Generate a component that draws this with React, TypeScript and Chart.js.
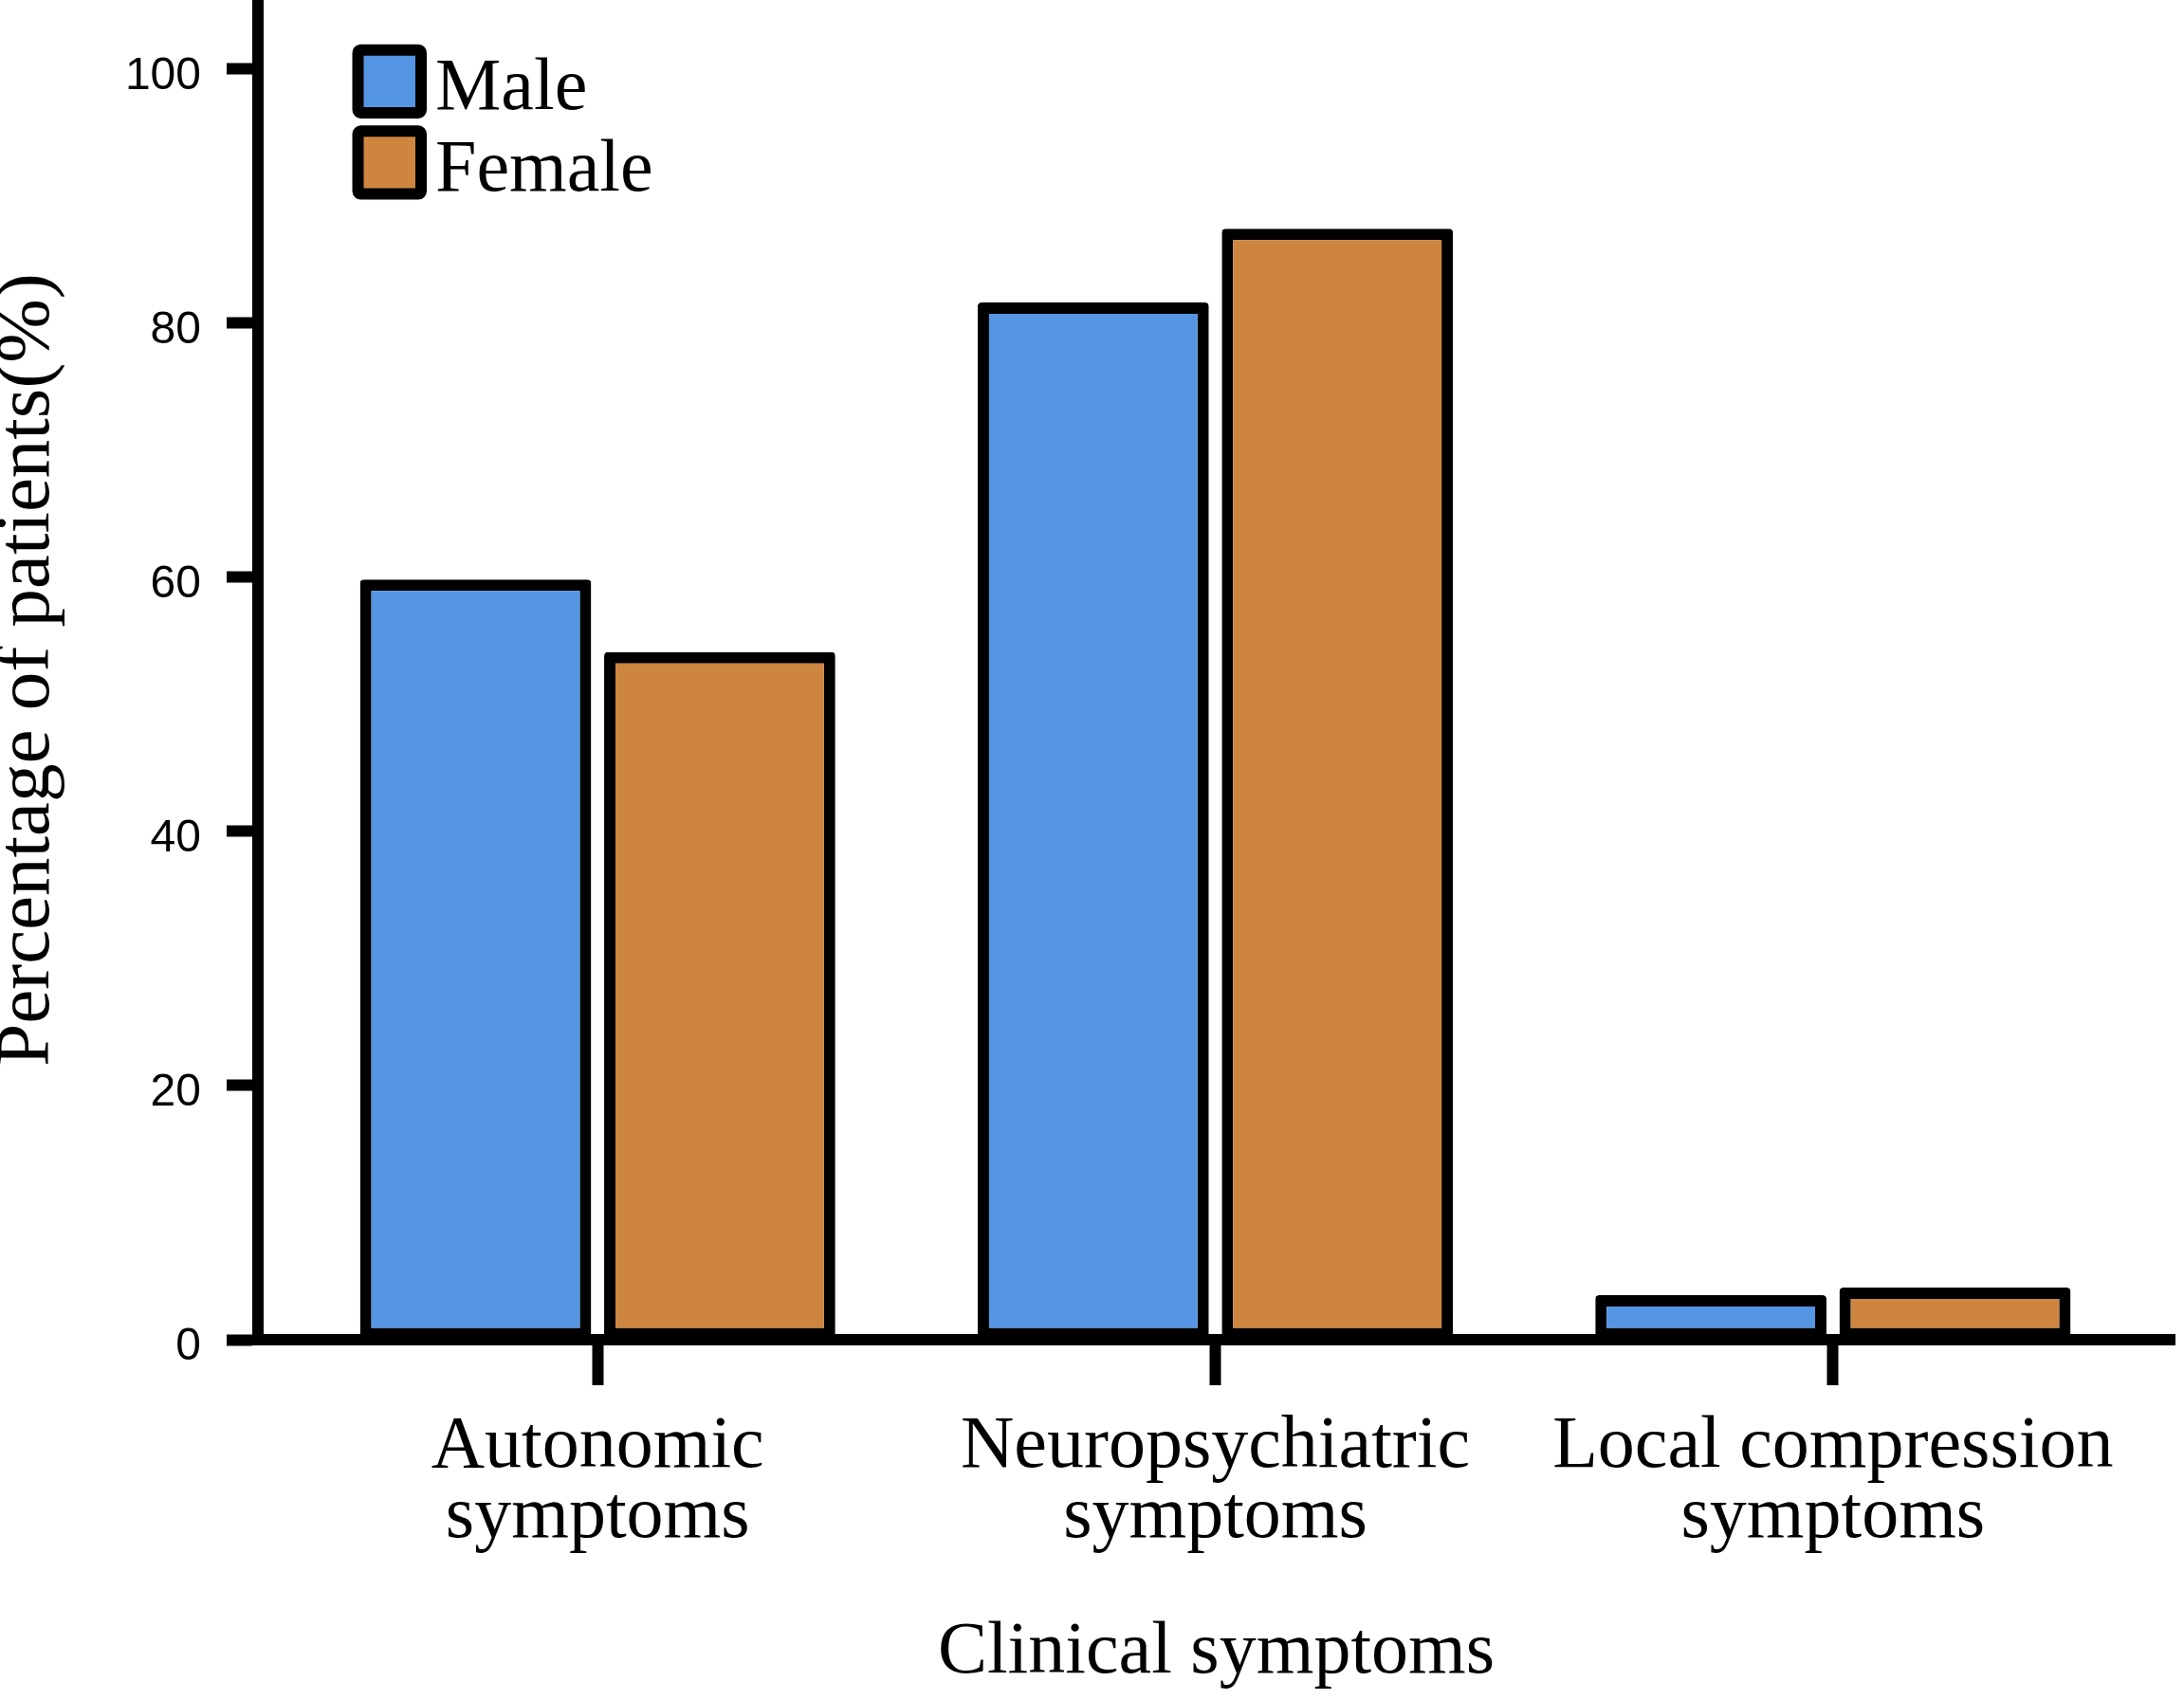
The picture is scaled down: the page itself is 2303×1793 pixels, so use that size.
import { useEffect, useRef } from 'react';
import { Chart, registerables } from 'chart.js';

Chart.register(...registerables);

const categories: string[][] = [
  ['Autonomic', 'symptoms'],
  ['Neuropsychiatric', 'symptoms'],
  ['Local compression', 'symptoms'],
];
const seriesNames = ['Male', 'Female'];
const maleValues = [59.8, 81.6, 3.5];
const femaleValues = [54.1, 87.4, 4.1];
const yTicks = [0, 20, 40, 60, 80, 100];
const seriesColors = ['#5495E4', '#CD853F'];

const xTitle = 'Clinical symptoms';
const yTitle = 'Percentage of patients(%)';

const SERIF = '"Liberation Serif", "Times New Roman", serif';
const SANS = '"Liberation Sans", Arial, sans-serif';

const W = 2303;
const H = 1793;

function roundRectPath(ctx: CanvasRenderingContext2D, x: number, y: number, w: number, h: number, r: number) {
  ctx.beginPath();
  ctx.moveTo(x + r, y);
  ctx.lineTo(x + w - r, y);
  ctx.arcTo(x + w, y, x + w, y + r, r);
  ctx.lineTo(x + w, y + h - r);
  ctx.arcTo(x + w, y + h, x + w - r, y + h, r);
  ctx.lineTo(x + r, y + h);
  ctx.arcTo(x, y + h, x, y + h - r, r);
  ctx.lineTo(x, y + r);
  ctx.arcTo(x, y, x + r, y, r);
  ctx.closePath();
}

const legendPlugin = {
  id: 'insideLegend',
  afterDraw(chart: any) {
    const ctx: CanvasRenderingContext2D = chart.ctx;
    const { left, top } = chart.chartArea;
    const boxX = left + 99.5;
    const boxW = 78.5;
    const boxH = 78.3;
    const step = 85.6;
    const lw = 12;
    ctx.save();
    chart.data.datasets.forEach((ds: any, i: number) => {
      const by = top + 46.7 + i * step;
      roundRectPath(ctx, boxX + lw / 2, by + lw / 2, boxW - lw, boxH - lw, 3);
      ctx.fillStyle = ds.backgroundColor;
      ctx.fill();
      ctx.lineWidth = lw;
      ctx.lineJoin = 'round';
      ctx.strokeStyle = '#000';
      ctx.stroke();
      ctx.fillStyle = '#000';
      ctx.font = `78px ${SERIF}`;
      ctx.textAlign = 'left';
      ctx.textBaseline = 'alphabetic';
      ctx.fillText(ds.label, left + 187, by + 68.3);
    });
    ctx.restore();
  },
};

export default function App() {
  const ref = useRef<HTMLCanvasElement>(null);

  useEffect(() => {
    if (!ref.current) return;
    const values = [maleValues, femaleValues];
    const chart = new Chart(ref.current, {
      type: 'bar',
      data: {
        datasets: seriesNames.map((name, s) => ({
          label: name,
          data: values[s].map((v, i) => ({ x: i, y: v })),
          backgroundColor: seriesColors[s],
          borderColor: '#000',
          borderWidth: 12,
          borderSkipped: false,
          borderRadius: 4,
          categoryPercentage: 0.7904,
          barPercentage: 0.947,
        })),
      },
      options: {
        animation: false,
        responsive: false,
        devicePixelRatio: 1,
        layout: { padding: { left: 0, right: 10, top: 0, bottom: 0 } },
        plugins: { legend: { display: false }, tooltip: { enabled: false } },
        scales: {
          x: {
            type: 'linear',
            min: -0.55,
            max: 2.553,
            offset: false,
            afterBuildTicks: (s: any) => {
              s.ticks = categories.map((_, i) => ({ value: i }));
            },
            afterFit: (s: any) => {
              s.height = 380;
              s.paddingLeft = 0;
              s.paddingRight = 0;
            },
            ticks: {
              autoSkip: false,
              maxRotation: 0,
              minRotation: 0,
              padding: 28.4,
              color: '#000',
              font: { family: SERIF, size: 78, lineHeight: 0.95 },
              callback: (v: any) => categories[Math.round(Number(v))] ?? '',
            },
            grid: {
              display: true,
              drawOnChartArea: false,
              drawTicks: true,
              tickLength: 48,
              tickWidth: 12,
              tickColor: '#000',
              offset: false,
            },
            border: { display: true, color: '#000', width: 12 },
            title: {
              display: true,
              text: xTitle,
              color: '#000',
              font: { family: SERIF, size: 78, lineHeight: 1 },
              padding: { top: 0, bottom: 10.3 },
            },
          },
          y: {
            min: 0,
            max: 105.4,
            afterBuildTicks: (s: any) => {
              s.ticks = yTicks.map((v) => ({ value: v }));
            },
            afterFit: (s: any) => {
              s.width = 272;
              s.paddingTop = 0;
              s.paddingBottom = 0;
            },
            ticks: {
              padding: 27,
              labelOffset: 8,
              color: '#000',
              font: { family: SANS, size: 48 },
            },
            grid: {
              display: true,
              drawOnChartArea: false,
              drawTicks: true,
              tickLength: 33,
              tickWidth: 12,
              tickColor: '#000',
            },
            border: { display: true, color: '#000', width: 12 },
            title: {
              display: true,
              text: yTitle,
              color: '#000',
              font: { family: SERIF, size: 81, lineHeight: 0.73 },
              padding: { top: 0, bottom: 0 },
            },
          },
        },
      } as any,
      plugins: [legendPlugin],
    });
    return () => chart.destroy();
  }, []);

  return (
    <div style={{ position: 'absolute', left: 0, top: 0, width: W, height: H, background: '#fff' }}>
      <canvas ref={ref} width={W} height={H} style={{ width: W, height: H, display: 'block' }} />
    </div>
  );
}
